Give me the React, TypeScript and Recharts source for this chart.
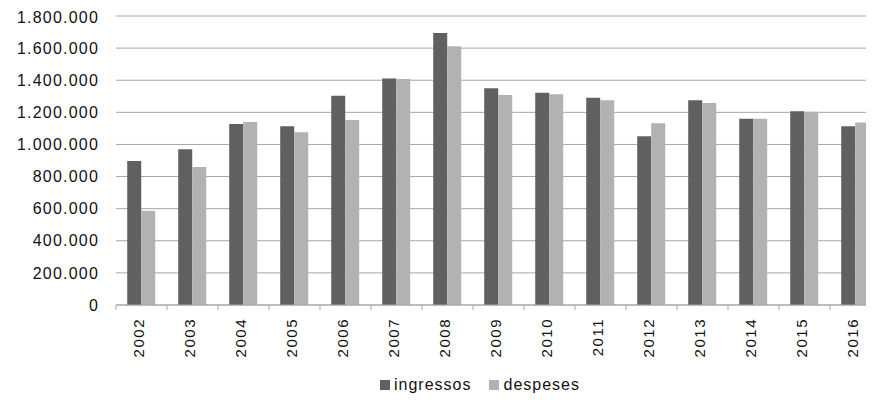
import { BarChart, Bar, XAxis, YAxis, CartesianGrid, Legend } from "recharts";

const years = ["2002", "2003", "2004", "2005", "2006", "2007", "2008", "2009", "2010", "2011", "2012", "2013", "2014", "2015", "2016"];
const ingressos = [897000, 970000, 1127000, 1113000, 1304000, 1410000, 1694000, 1350000, 1322000, 1291000, 1051000, 1275000, 1160000, 1206000, 1113000];
const despeses = [587000, 860000, 1140000, 1076000, 1152000, 1408000, 1611000, 1308000, 1312000, 1275000, 1132000, 1258000, 1160000, 1204000, 1136000];
const yTicks = [0, 200000, 400000, 600000, 800000, 1000000, 1200000, 1400000, 1600000, 1800000];
const seriesOrder = ["ingressos", "despeses"];

const data = years.map((year, i) => ({ year, ingressos: ingressos[i], despeses: despeses[i] }));

const CHART_W = 900;
const CHART_H = 392;
const Y_AXIS_W = 108;
const MARGIN_RIGHT = 27;
const BAND = (CHART_W - Y_AXIS_W - MARGIN_RIGHT) / years.length;
const FONT = "'Liberation Sans', Arial, sans-serif";

const fmt = (v: number) => String(v).replace(/\B(?=(\d{3})+(?!\d))/g, ".");

function YearTick(props: any) {
    const { x, y, payload } = props;
    return (
        <g>
            <line x1={x - BAND / 2} y1={y} x2={x - BAND / 2} y2={y + 5} stroke="#a6a6a6" />
            <text
                transform={`translate(${x - 3},${y + 13}) rotate(-90)`}
                textAnchor="end"
                dy="0.35em"
                fontFamily={FONT}
                fontSize={15}
                letterSpacing={1.5}
                fill="#111"
            >
                {payload.value}
            </text>
        </g>
    );
}

function renderLegend(props: any) {
    const items = [...props.payload].sort(
        (a: any, b: any) => seriesOrder.indexOf(a.dataKey) - seriesOrder.indexOf(b.dataKey)
    );
    return (
        <div style={{ display: "flex", justifyContent: "center", alignItems: "center", height: 30, fontFamily: FONT, fontSize: 16, letterSpacing: 1, color: "#111" }}>
            {items.map((entry: any, i: number) => (
                <span key={entry.value} style={{ display: "flex", alignItems: "center", marginRight: i < items.length - 1 ? 18 : 0 }}>
                    <span style={{ width: 10, height: 10, background: entry.color, marginRight: 4, display: "inline-block" }} />
                    {entry.value}
                </span>
            ))}
        </div>
    );
}

export default function App() {
    return (
        <div style={{ width: 866, overflow: "hidden" }}>
            <BarChart
                width={CHART_W}
                height={CHART_H}
                data={data}
                margin={{ top: 8, right: MARGIN_RIGHT, left: 0, bottom: 0 }}
                barCategoryGap="22%"
                barGap={0}
            >
                <CartesianGrid vertical={false} stroke="#a6a6a6" />
                <XAxis
                    dataKey="year"
                    height={65}
                    tick={<YearTick />}
                    tickLine={false}
                    tickSize={0}
                    tickMargin={0}
                    axisLine={{ stroke: "#a6a6a6" }}
                    interval={0}
                />
                <YAxis
                    width={Y_AXIS_W}
                    domain={[0, 1800000]}
                    ticks={yTicks}
                    tickFormatter={fmt}
                    axisLine={false}
                    tickLine={false}
                    tickSize={6}
                    tickMargin={11}
                    tick={{ fontFamily: FONT, fontSize: 16, letterSpacing: 1.2, fill: "#111" }}
                />
                <Legend
                    verticalAlign="bottom"
                    height={30}
                    content={renderLegend}
                    wrapperStyle={{ left: 0, width: 944, bottom: 0 }}
                />
                <Bar dataKey="ingressos" fill="#606060" isAnimationActive={false} />
                <Bar dataKey="despeses" fill="#b2b2b2" isAnimationActive={false} />
            </BarChart>
        </div>
    );
}
